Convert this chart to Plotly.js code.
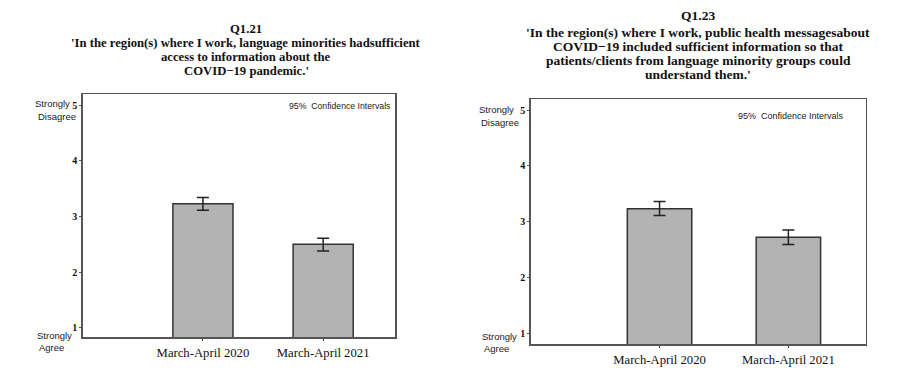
<!DOCTYPE html>
<html>
<head>
<meta charset="utf-8">
<script src="https://cdn.plot.ly/plotly-3.0.1.min.js"></script>
<style>html,body{margin:0;padding:0;background:#fff;}#chart{width:907px;height:380px;}</style>
</head>
<body>
<div id="chart"></div>
<script>
// ---- data ----
const categories = ["March-April 2020", "March-April 2021"];
const q121Mean = [3.23, 2.50];
const q121Upper = [3.34, 2.61];
const q121Lower = [3.11, 2.38];
const q123Mean = [3.23, 2.72];
const q123Upper = [3.36, 2.85];
const q123Lower = [3.11, 2.59];
const yTickVals = [1, 2, 3, 4, 5];
const yTickText = ["1", "2", "3", "4", "5"];
const q121Title = ["Q1.21",
  "'In the region(s) where I work, language minorities hadsufficient",
  "access to information about the",
  "COVID\u221219 pandemic.'"];
const q123Title = ["Q1.23",
  "'In the region(s) where I work, public health messagesabout",
  "COVID\u221219 included sufficient information so that",
  "patients/clients from language minority groups could",
  "understand them.'"];
const ciLabel = "95%&nbsp; Confidence Intervals";
const topLabel = ["Strongly", "Disagree"];
const bottomLabel = ["Strongly", "Agree"];

const W = 907, H = 380;
const px = v => v / W;
const py = v => 1 - v / H;

function barTrace(means, up, lo, xa, ya) {
  return {
    type: "bar", x: categories, y: means, xaxis: xa, yaxis: ya,
    width: 0.5,
    marker: {color: "#b3b3b3", line: {color: "#333333", width: 1.5}},
    error_y: {type: "data", symmetric: false,
      array: up.map((u, i) => u - means[i]),
      arrayminus: means.map((m, i) => m - lo[i]),
      color: "#222222", thickness: 1.5, width: 6},
    hoverinfo: "skip", showlegend: false
  };
}

const serif = "Liberation Serif, Times New Roman, serif";
const sans = "Liberation Sans, Arial, sans-serif";

function xAxis(d) {
  return {domain: d, type: "category", range: [-1.0, 1.6], showgrid: false, zeroline: false,
    showline: true, mirror: true, linecolor: "#555555", linewidth: 1.5,
    ticks: "outside", ticklen: 2.5, tickcolor: "#333333", tickwidth: 1,
    tickfont: {family: serif, size: 12.7, color: "#111"}, automargin: false, fixedrange: true};
}
function yAxis(d, r, anchor) {
  return {domain: d, range: r, anchor: anchor, showgrid: false, zeroline: false,
    showline: true, mirror: true, linecolor: "#555555", linewidth: 1.5,
    tickvals: yTickVals, ticktext: yTickText.map(t => "<b>" + t + "</b>"),
    ticks: "outside", ticklen: 2, tickcolor: "#555", tickwidth: 1,
    tickfont: {family: serif, size: 10, color: "#111"}, automargin: false, fixedrange: true};
}

const annotations = [];
function addLines(lines, xc, ys, size) {
  lines.forEach((t, i) => annotations.push({
    xref: "paper", yref: "paper", x: px(xc), y: py(ys[i]), xanchor: "center", yanchor: "middle",
    text: "<b>" + t + "</b>", showarrow: false,
    font: {family: serif, size: size, color: "#111"}
  }));
}
addLines(q121Title, 246.5, [29.3, 43.3, 57.3, 71], 12.7);
addLines(q123Title, 698, [15, 32.3, 46.3, 61, 74.3], 13.5);

function addSmall(t, x, y, anchor, size) {
  annotations.push({xref: "paper", yref: "paper", x: px(x), y: py(y), xanchor: anchor, yanchor: "middle",
    text: t, showarrow: false, font: {family: sans, size: size || 9.5, color: "#222"}});
}
addSmall(ciLabel, 287, 105.7, "left", 8.7);
addSmall(ciLabel, 736, 115.7, "left", 9);
addSmall(topLabel[0], 52, 104, "center");
addSmall(topLabel[1], 56.5, 116.5, "center");
addSmall(bottomLabel[0], 54, 335, "center");
addSmall(bottomLabel[1], 51, 347.7, "center");
addSmall(topLabel[0], 496, 109.3, "center");
addSmall(topLabel[1], 500, 122.3, "center");
addSmall(bottomLabel[0], 499, 336, "center");
addSmall(bottomLabel[1], 496, 348.7, "center");

const layout = {
  width: W, height: H, margin: {l: 0, r: 0, t: 0, b: 0},
  paper_bgcolor: "#fff", plot_bgcolor: "#fff", showlegend: false, bargap: 0.5,
  xaxis: Object.assign(xAxis([px(82.7), px(395.3)]), {anchor: "y"}),
  yaxis: yAxis([py(337.3), py(94)], [0.83, 5.2], "x"),
  xaxis2: Object.assign(xAxis([px(530.7), px(865.7)]), {anchor: "y2"}),
  yaxis2: yAxis([py(344.3), py(99)], [0.8, 5.2], "x2"),
  annotations: annotations
};

Plotly.newPlot("chart", [
  barTrace(q121Mean, q121Upper, q121Lower, "x", "y"),
  barTrace(q123Mean, q123Upper, q123Lower, "x2", "y2")
], layout, {displayModeBar: false, staticPlot: true});
</script>
</body>
</html>
